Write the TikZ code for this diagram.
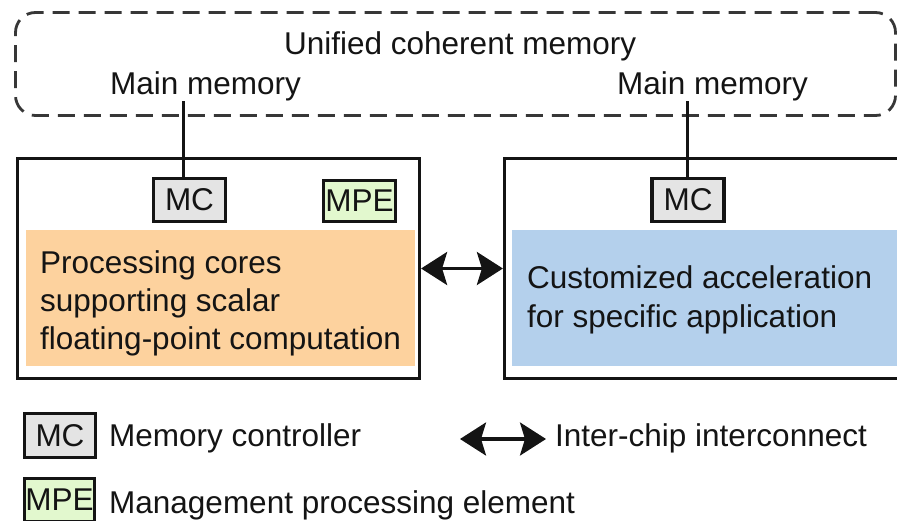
\documentclass[tikz,border=0pt]{standalone}
\usepackage{fontspec}
\setmainfont{Liberation Sans}
\usetikzlibrary{arrows.meta}
\definecolor{orangefill}{RGB}{253,210,158}
\definecolor{bluefill}{RGB}{180,208,236}
\definecolor{mcgray}{RGB}{228,228,228}
\definecolor{mpegreen}{RGB}{226,248,206}
\definecolor{inkc}{RGB}{20,20,20}
\begin{document}
\begin{tikzpicture}[x=1pt,y=1pt,
  txt/.style={font=\fontsize{31.5}{38}\selectfont, inner sep=0pt, text=inkc, align=left},
  bigbox/.style={draw=inkc, line width=3.2pt, rectangle, inner sep=0pt, minimum height=220pt},
  fillbox/.style={rectangle, inner sep=0pt, minimum height=136pt},
  tagbox/.style={draw=inkc, line width=3.2pt, rectangle, inner sep=0pt, text=inkc,
    font=\fontsize{31.5}{38}\selectfont, minimum width=72pt, minimum height=43pt},
  memcloud/.style={draw=inkc!85, line width=2.8pt, dash pattern=on 17pt off 9pt, rounded corners=20pt,
    rectangle, inner sep=0pt, minimum width=880pt, minimum height=103pt},
  conn/.style={draw=inkc, line width=3pt},
  biarrow/.style={draw=inkc, line width=3.2pt,
    {Stealth[length=26pt,width=33pt,inset=5pt]}-{Stealth[length=26pt,width=33pt,inset=5pt]}}
]
\useasboundingbox (0,0) rectangle (897,520);
\clip (0,0) rectangle (897,520);

% unified memory
\node[memcloud] (mem) at (455.5,456) {};
\node[txt, anchor=base west] (umem) at (284,465) {Unified coherent memory};
\node[txt, anchor=base west] (mm1) at (110,425) {Main memory};
\node[txt, anchor=base west] (mm2) at (617,425) {Main memory};

% left chip
\node[bigbox, minimum width=402pt] (leftbox) at (218.5,251.5) {};
\node[fillbox, fill=orangefill, minimum width=389pt] (cores) at (220.5,222) {};
\node[txt, anchor=west] (coretext) at (40,217)
  {Processing cores\\supporting scalar\\floating-point computation};
\node[tagbox, fill=mcgray] (mc1) at (189.5,320) {MC};
\node[tagbox, fill=mpegreen, minimum height=41pt] (mpe1) at (359.5,319) {MPE};

% right chip
\node[bigbox, minimum width=445.5pt] (rightbox) at (727.25,251.5) {};
\node[fillbox, fill=bluefill, minimum width=438pt] (accel) at (731,222) {};
\node[txt, anchor=west, font=\fontsize{31.5}{39}\selectfont] (acceltext) at (527,220.5)
  {Customized acceleration\\for specific application};
\node[tagbox, fill=mcgray] (mc2) at (688,320) {MC};

% memory connectors
\coordinate (t1) at (183,419);
\coordinate (t2) at (687,419);
\draw[conn] (mc1.north -| t1) -- (t1);
\draw[conn] (mc2.north -| t2) -- (t2);

% inter-chip link
\draw[biarrow] (leftbox.east) -- (rightbox.west);

% legend
\node[tagbox, fill=mcgray, minimum width=71pt, minimum height=44pt] (lmc) at (60,84.5) {MC};
\node[txt, anchor=base west] (lmctext) at (109,74) {Memory controller};
\coordinate (la) at (460,81);
\coordinate (lb) at (546,81);
\draw[biarrow] (la) -- (lb);
\node[txt, anchor=base west] (lictext) at (555,74) {Inter-chip interconnect};
\node[tagbox, fill=mpegreen, minimum width=70pt, minimum height=43pt] (lmpe) at (59.5,20) {MPE};
\node[txt, anchor=base west] (lmpetext) at (109,7) {Management processing element};
\end{tikzpicture}
\end{document}
